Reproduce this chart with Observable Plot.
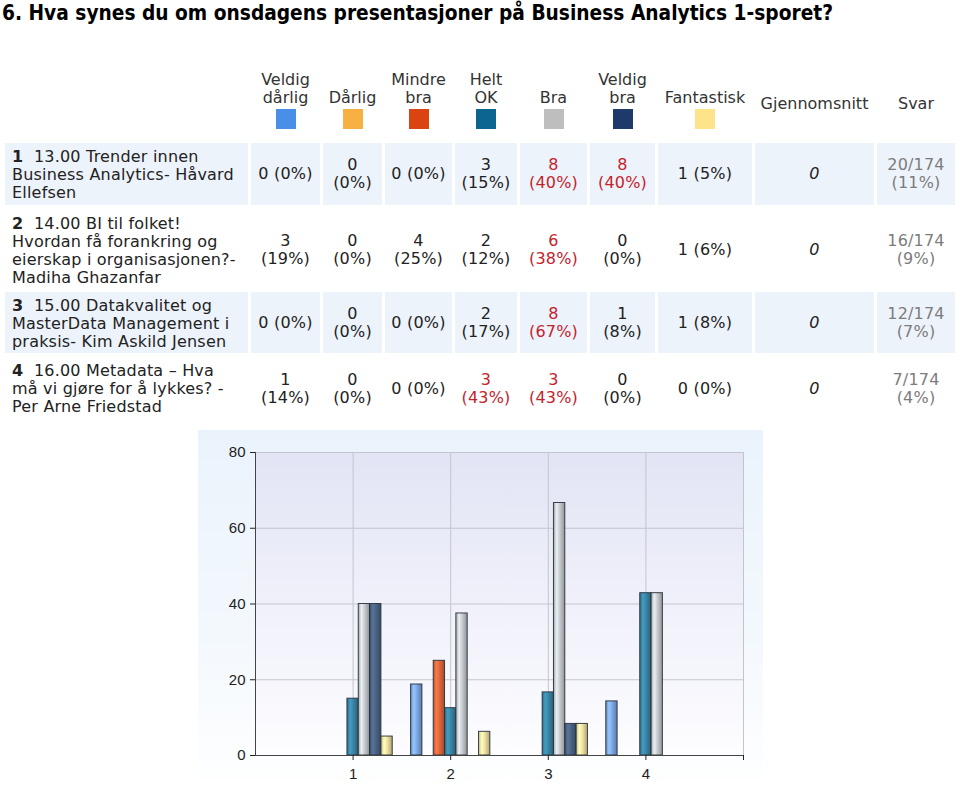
<!DOCTYPE html>
<html>
<head>
<meta charset="utf-8">
<script src="https://cdn.jsdelivr.net/npm/d3@7"></script>
<script src="https://cdn.jsdelivr.net/npm/@observablehq/plot@0.6"></script>
<style>
  html, body { margin: 0; padding: 0; background: #fff; }
  body { width: 960px; height: 795px; overflow: hidden; position: relative;
         font-family: "DejaVu Sans", Verdana, sans-serif; color: #222; }
  #title { position: absolute; left: 2px; top: 1px; white-space: nowrap;
           font-family: "DejaVu Sans Condensed", "DejaVu Sans", sans-serif; font-stretch: condensed;
           font-weight: bold; font-size: 21px; color: #000; transform-origin: 0 0; }
  .hdr { position: absolute; text-align: center; font-size: 16px; line-height: 18px; color: #333; }
  .sw { position: absolute; width: 20px; height: 20px; }
  .cell { position: absolute; box-sizing: border-box; display: flex; align-items: center;
          justify-content: center; text-align: center; font-size: 16px; line-height: 18px;
          letter-spacing: 0.2px; }
  .cell.shade { background: #edf3fb; }
  .qcell { justify-content: flex-start; text-align: left; padding-left: 7px; align-items: flex-start; }
  .inner { display: block; }
  .red { color: #c4232c; }
  .gray { color: #7c7c7c; }
  #chartbox { position: absolute; left: 198px; top: 430px; width: 565px; height: 365px;
              background: linear-gradient(to bottom, #eaf3fc 0%, #f3f8fd 55%, #ffffff 100%); }
  #chartbox svg text { font-size: 15px !important; font-family: "Liberation Sans", Arial, sans-serif !important; fill: #222; }
</style>
</head>
<body>
<div id="title"></div>
<div id="table"></div>
<div id="chartbox"></div>
<script>
// ---------- data ----------
const titleText = "6. Hva synes du om onsdagens presentasjoner på Business Analytics 1-sporet?";
const categories = ["Veldig dårlig", "Dårlig", "Mindre bra", "Helt OK", "Bra", "Veldig bra", "Fantastisk"];
const headerLines = [["Veldig", "dårlig"], ["Dårlig"], ["Mindre", "bra"], ["Helt", "OK"], ["Bra"], ["Veldig", "bra"], ["Fantastisk"]];
const extraHeaders = ["Gjennomsnitt", "Svar"];
const legendColors = ["#4a8fe7", "#f8b043", "#db4411", "#0c6490", "#bebebe", "#1d3a6b", "#fde38a"];
const barColors = ["#7eaae8", "#f5a94a", "#df673c", "#3a86a7", "#c8ccd0", "#4b6485", "#f2e4a2"];
const questionNumbers = [1, 2, 3, 4];
const questionLines = [
  ["13.00 Trender innen", "Business Analytics- Håvard", "Ellefsen"],
  ["14.00 BI til folket!", "Hvordan få forankring og", "eierskap i organisasjonen?-", "Madiha Ghazanfar"],
  ["15.00 Datakvalitet og", "MasterData Management i", "praksis- Kim Askild Jensen"],
  ["16.00 Metadata – Hva", "må vi gjøre for å lykkes? -", "Per Arne Friedstad"]
];
const counts = [
  [0, 0, 0, 3, 8, 8, 1],
  [3, 0, 4, 2, 6, 0, 1],
  [0, 0, 0, 2, 8, 1, 1],
  [1, 0, 0, 3, 3, 0, 0]
];
const pctLabels = [
  [0, 0, 0, 15, 40, 40, 5],
  [19, 0, 25, 12, 38, 0, 6],
  [0, 0, 0, 17, 67, 8, 8],
  [14, 0, 0, 43, 43, 0, 0]
];
const averages = [0, 0, 0, 0];
const answered = [20, 16, 12, 7];
const invited = 174;
const answeredPct = [11, 9, 7, 4];
const yTicks = [0, 20, 40, 60, 80];
const xTicks = [1, 2, 3, 4];

// ---------- layout (positions only) ----------
const colLeft =  [5, 251, 323, 385, 455, 520, 590, 658, 755, 877];
const colWidth = [243, 69, 59, 67, 62, 67, 65, 94, 119, 78];
const innerWidth = [0, 60, 50, 60, 58, 58, 50, 90, 110, 76];
const rowTop = [143, 210, 292, 357];
const rowH = [62, 79, 61, 64];

// ---------- title ----------
const t = document.getElementById("title");
t.textContent = titleText;
const tw = t.getBoundingClientRect().width;
t.style.transform = `scaleX(${831 / tw})`;

// ---------- header ----------
const tbl = document.getElementById("table");
function el(tag, cls, parent) { const e = document.createElement(tag); if (cls) e.className = cls; parent.appendChild(e); return e; }
categories.forEach((c, k) => {
  const col = k + 1;
  const h = el("div", "hdr", tbl);
  h.style.left = (colLeft[col] - 10) + "px";
  h.style.width = (colWidth[col] + 20) + "px";
  h.style.top = (107 - 18 * headerLines[k].length) + "px";
  h.innerHTML = headerLines[k].join("<br>");
  const s = el("div", "sw", tbl);
  s.style.left = (colLeft[col] + colWidth[col] / 2 - 10) + "px";
  s.style.top = "109px";
  s.style.background = legendColors[k];
});
extraHeaders.forEach((name, i) => {
  const col = 8 + i;
  const h = el("div", "hdr", tbl);
  h.style.left = colLeft[col] + "px";
  h.style.width = colWidth[col] + "px";
  h.style.top = "95px";
  h.textContent = name;
});

// ---------- rows ----------
questionNumbers.forEach((n, r) => {
  const shade = r % 2 === 0;
  const mk = (col) => {
    const c = el("div", "cell" + (shade ? " shade" : ""), tbl);
    c.style.left = colLeft[col] + "px";
    c.style.width = colWidth[col] + "px";
    c.style.top = rowTop[r] + "px";
    c.style.height = rowH[r] + "px";
    return c;
  };
  const q = mk(0);
  q.classList.add("qcell");
  q.style.paddingTop = "5px";
  const qi = el("div", "inner", q);
  qi.innerHTML = `<b>${n}</b>&nbsp; ` + questionLines[r].join("<br>");
  const maxC = Math.max(...counts[r]);
  counts[r].forEach((v, k) => {
    const c = mk(k + 1);
    const inner = el("div", "inner", c);
    inner.style.width = innerWidth[k + 1] + "px";
    inner.textContent = `${v} (${pctLabels[r][k]}%)`;
    if (v === maxC && v > 0) inner.classList.add("red");
  });
  const a = mk(8);
  const ai = el("div", "inner", a);
  ai.style.fontStyle = "italic";
  ai.textContent = averages[r];
  const s = mk(9);
  const si = el("div", "inner gray", s);
  si.style.width = innerWidth[9] + "px";
  si.textContent = `${answered[r]}/${invited} (${answeredPct[r]}%)`;
});

// ---------- chart ----------
const slot = 0.116;
const bars = [];
counts.forEach((row, gi) => row.forEach((v, k) => {
  if (v > 0) bars.push({group: xTicks[gi], k, cat: categories[k], value: v / answered[gi] * 100});
}));

const svg = Plot.plot({
  width: 565, height: 365,
  marginLeft: 57, marginRight: 20, marginTop: 22, marginBottom: 40,
  style: {background: "transparent", fontFamily: "'Liberation Sans', Arial, sans-serif", fontSize: "15px", color: "#222"},
  x: {domain: [0, 5]},
  y: {domain: [0, 80]},
  color: {type: "identity"},
  marks: [
    Plot.frame({fill: "url(#plotbg)", stroke: "#c4c5cc"}),
    Plot.gridY(yTicks, {stroke: "#c4c5cc", strokeOpacity: 1}),
    Plot.gridX(xTicks, {stroke: "#c4c5cc", strokeOpacity: 1}),
    Plot.rectY(bars, {
      x1: d => d.group + (d.k - 3.5) * slot,
      x2: d => d.group + (d.k - 2.5) * slot,
      y: "value",
      fill: d => `url(#bar${d.k})`,
      stroke: "#27303a", strokeWidth: 1, strokeOpacity: 0.9
    }),
    Plot.ruleX([0], {stroke: "#444"}),
    Plot.ruleY([0], {stroke: "#444"}),
    Plot.axisY(yTicks, {tickSize: 5, tickPadding: 5, label: null, stroke: "#222", fontSize: 15, fill: "#222"}),
    Plot.axisX([...xTicks, 5], {tickSize: 5, tickPadding: 8, label: null, tickFormat: d => xTicks.includes(d) ? String(d) : "", stroke: "#222", fontSize: 15, fill: "#222"})
  ]
});

const defs = d3.select(svg).insert("defs", ":first-child");
const pg = defs.append("linearGradient").attr("id", "plotbg").attr("x1", 0).attr("x2", 0).attr("y1", 0).attr("y2", 1);
pg.append("stop").attr("offset", "0%").attr("stop-color", "#e2e4f5");
pg.append("stop").attr("offset", "100%").attr("stop-color", "#fdfdff");
barColors.forEach((c, k) => {
  const base = d3.color(c);
  const g = defs.append("linearGradient").attr("id", `bar${k}`).attr("x1", 0).attr("x2", 1).attr("y1", 0).attr("y2", 0);
  g.append("stop").attr("offset", "0%").attr("stop-color", base.darker(0.6).formatHex());
  g.append("stop").attr("offset", "28%").attr("stop-color", base.brighter(0.45).formatHex());
  g.append("stop").attr("offset", "55%").attr("stop-color", base.formatHex());
  g.append("stop").attr("offset", "100%").attr("stop-color", base.darker(0.9).formatHex());
});

document.getElementById("chartbox").appendChild(svg);
</script>
</body>
</html>
